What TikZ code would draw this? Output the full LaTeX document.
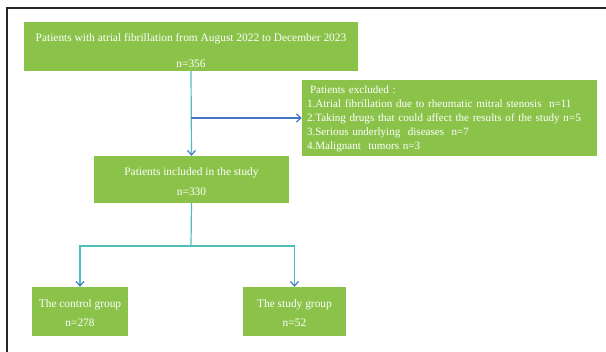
\documentclass[tikz,border=0pt]{standalone}
\usepackage{fontspec}
\setmainfont{Liberation Serif}
\usepackage{tikz}
\usetikzlibrary{arrows.meta}

\definecolor{boxgreen}{RGB}{139,195,74}
\definecolor{lineteal}{RGB}{78,190,186}
\definecolor{arrowblue}{RGB}{70,118,200}

\tikzset{
  box/.style={fill=boxgreen, text=white, inner sep=0pt, align=center,
    font=\fontsize{11.4}{13.7}\selectfont},
  link/.style={lineteal, line width=1.2pt},
  tip/.style={-{Straight Barb[length=4.5pt, width=8pt, color=arrowblue]}}
}

\begin{document}
\begin{tikzpicture}[x=1pt, y=-1pt]
      \useasboundingbox (0,0) rectangle (606,352);
      \draw[line width=1.3pt, black!85] (7,352) -- (7,8) -- (606,8);

      \node (top) at (191,46.5) [box, minimum width=334pt, minimum height=49pt]
        {\rule{0pt}{16pt}Patients with atrial fibrillation from August 2022 to December 2023\\[13pt] n=356};
      \node (excl) at (449.5,118) [box, minimum width=295pt, minimum height=76pt,
        inner xsep=5pt, text width=285pt, align=left,
        font=\fontsize{11.1}{14}\selectfont]
        {\rule{0pt}{10pt}\hspace{3pt}Patients excluded~:\\
         1.Atrial fibrillation due to rheumatic mitral stenosis~~n=11\\
         2.Taking drugs that could affect the results of the study n=5\\
         3.Serious underlying~~diseases~~n=7\\
         4.Malignant~~tumors n=3};
      \node (inc) at (191.5,179.5) [box, minimum width=195pt, minimum height=47pt]
        {\rule{0pt}{12pt}Patients included in the study\\[6pt] n=330};
      \node (ctrl) at (80,311.5) [box, minimum width=96pt, minimum height=49pt]
        {\rule{0pt}{11pt}The control group\\[6pt] n=278};
      \node (stdy) at (294.5,311.5) [box, minimum width=103pt, minimum height=49pt]
        {\rule{0pt}{11pt}The study group\\[6pt] n=52};

      \coordinate (split) at (top.south |- excl.west);
      \coordinate (fork) at (191,246);

      \draw[link, tip] (top.south) -- (inc.north);
      \draw[link, arrowblue, tip] (split) -- (excl.west);
      \draw[link] (inc.south) -- (fork);
      \draw[link, tip] (fork) -| (ctrl.north);
      \draw[link, tip] (fork) -| (stdy.north);
    \end{tikzpicture}
\end{document}
